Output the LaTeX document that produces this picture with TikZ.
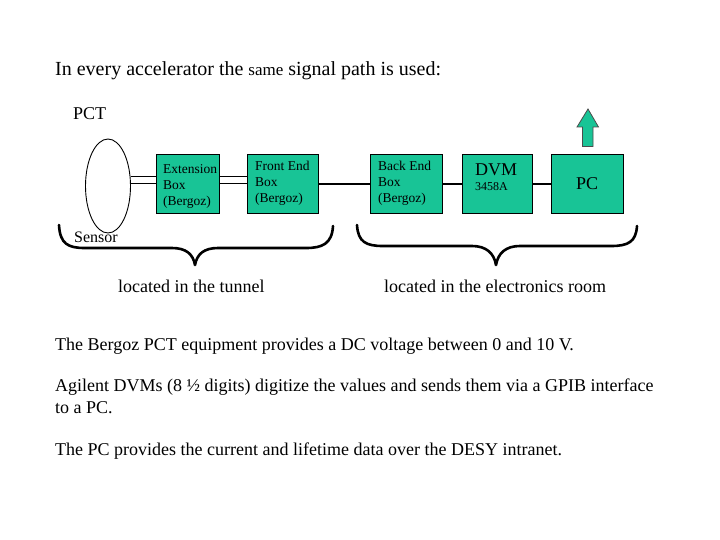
\documentclass[tikz,border=0pt]{standalone}
\usepackage{fontspec}
\setmainfont{Liberation Serif}
\usetikzlibrary{calc,shapes.geometric}
\definecolor{boxgreen}{RGB}{24,196,150}
\newcommand{\fs}[1]{\fontsize{#1}{#1}\selectfont}
\tikzset{
  x=1pt,y=-1pt,
  greenbox/.style={draw=black,line width=0.9pt,fill=boxgreen,anchor=north west,inner sep=0pt,minimum width=#1,minimum height=59pt},
  lbl/.style={anchor=base west,inner sep=0pt,text=black},
  boxtxt/.style={lbl,font=\fs{13.5}},
  bigtxt/.style={lbl,font=\fs{18}},
  cable/.style={line width=2.8pt},
  twin/.style={line width=1.1pt},
  bracepath/.style={line width=2.6pt,line cap=round,line join=round}
}
\begin{document}
\begin{tikzpicture}
\useasboundingbox (0,0) rectangle (720,540);
\fill[white] (0,0) rectangle (720,540);
% heading
\node[lbl,font=\fs{20}] (head) at (55,76) {In every accelerator the {\fs{17}same} signal path is used:};
\node[bigtxt] (pct) at (73,120) {PCT};
% sensor
\node[draw=black,line width=0.9pt,fill=white,ellipse,minimum width=45pt,minimum height=94pt,inner sep=0pt] (ell) at (108,186) {};
% boxes
\node[greenbox=63pt] (ext) at (156,154) {};
\node[greenbox=71pt] (front) at (247,154) {};
\node[greenbox=72pt] (back) at (370,154) {};
\node[greenbox=70pt] (dvm) at (462,154) {};
\node[greenbox=72pt] (pc) at (551,154) {};
% box texts
\node[boxtxt] (t1a) at (163,174) {Extension};
\node[boxtxt] (t1b) at (163,190) {Box};
\node[boxtxt] (t1c) at (163,206) {(Bergoz)};
\node[boxtxt] (t2a) at (255,171) {Front End};
\node[boxtxt] (t2b) at (255,187) {Box};
\node[boxtxt] (t2c) at (255,203) {(Bergoz)};
\node[boxtxt] (t3a) at (378,171) {Back End};
\node[boxtxt] (t3b) at (378,187) {Box};
\node[boxtxt] (t3c) at (378,203) {(Bergoz)};
\node[bigtxt] (t4a) at (475,176) {DVM};
\node[lbl,font=\fs{12}] (t4b) at (475,191) {3458A};
\node[bigtxt] (t5) at (576,190) {PC};
% connectors
\path (ext.west) ++(0,-7.5) coordinate (a1) (ext.west) ++(0,-0.5) coordinate (a2);
\path (ext.east) ++(0,-7.5) coordinate (b1) (ext.east) ++(0,-0.5) coordinate (b2);
\draw[twin] (a1 -| ell.east) -- (a1);
\draw[twin] (a2 -| ell.east) -- (a2);
\draw[twin] (b1) -- (b1 -| front.west);
\draw[twin] (b2) -- (b2 -| front.west);
\draw[cable] (front.east) -- (back.west);
\draw[cable] (back.east) -- (dvm.west);
\draw[cable] (dvm.east) -- (pc.west);
% output arrow
\filldraw[fill=boxgreen,draw=black!70,line width=0.8pt]
  (588,109) -- (598.5,127) -- (593,127) -- (593,146.5) -- (582.5,146.5) -- (582.5,127) -- (577,127) -- cycle;
% sensor label
\node[lbl,font=\fs{16}] (sens) at (74,242) {Sensor};
% braces
\draw[bracepath] (59,225) .. controls (60,244) and (68,248) .. (85,248)
  -- (172,248) .. controls (186,248) and (193,254) .. (195,265)
  .. controls (197,254) and (204,248) .. (218,248) -- (306,248)
  .. controls (322,248) and (332,244) .. (333,226);
\draw[bracepath] (357,225) .. controls (358,242) and (366,246) .. (383,246)
  -- (472,246) .. controls (486,246) and (494,253) .. (496,265)
  .. controls (498,253) and (506,246) .. (520,246) -- (611,246)
  .. controls (628,246) and (636,242) .. (637,226);
\node[lbl,font=\fs{18}] (tun) at (118,292) {located in the tunnel};
\node[lbl,font=\fs{18}] (room) at (384,292) {located in the electronics room};
% body text
\node[bigtxt] (p1) at (55,350) {The Bergoz PCT equipment provides a DC voltage between 0 and 10 V.};
\node[bigtxt] (p2) at (55,391) {Agilent DVMs (8 ½ digits) digitize the values and sends them via a GPIB interface};
\node[bigtxt] (p3) at (55,413) {to a PC.};
\node[bigtxt] (p4) at (55,455) {The PC provides the current and lifetime data over the DESY intranet.};
\end{tikzpicture}
\end{document}
